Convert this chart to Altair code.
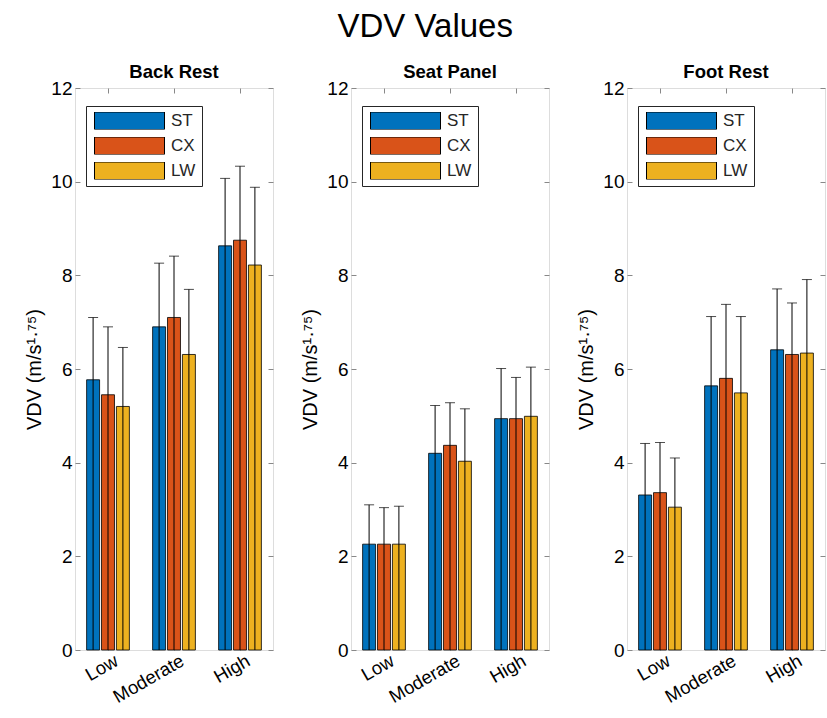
import altair as alt
import pandas as pd

panels = ["Back Rest", "Seat Panel", "Foot Rest"]
levels = ["Low", "Moderate", "High"]
series = ["ST", "CX", "LW"]
colors = ["#0072BD", "#D95319", "#EDB120"]

# mean VDV values per panel, per series (Low, Moderate, High)
back_st = [5.77, 6.90, 8.63]
back_cx = [5.45, 7.10, 8.75]
back_lw = [5.20, 6.31, 8.22]
seat_st = [2.26, 4.20, 4.94]
seat_cx = [2.26, 4.37, 4.94]
seat_lw = [2.26, 4.03, 4.99]
foot_st = [3.31, 5.64, 6.41]
foot_cx = [3.36, 5.80, 6.31]
foot_lw = [3.05, 5.49, 6.34]

# upper error (standard deviation) per panel, per series
back_st_sd = [1.33, 1.36, 1.44]
back_cx_sd = [1.45, 1.31, 1.58]
back_lw_sd = [1.26, 1.39, 1.66]
seat_st_sd = [0.84, 1.02, 1.07]
seat_cx_sd = [0.78, 0.91, 0.88]
seat_lw_sd = [0.81, 1.12, 1.05]
foot_st_sd = [1.10, 1.48, 1.30]
foot_cx_sd = [1.07, 1.58, 1.10]
foot_lw_sd = [1.05, 1.63, 1.57]

y_ticks = [0, 2, 4, 6, 8, 10, 12]

means = {
    "Back Rest": [back_st, back_cx, back_lw],
    "Seat Panel": [seat_st, seat_cx, seat_lw],
    "Foot Rest": [foot_st, foot_cx, foot_lw],
}
sds = {
    "Back Rest": [back_st_sd, back_cx_sd, back_lw_sd],
    "Seat Panel": [seat_st_sd, seat_cx_sd, seat_lw_sd],
    "Foot Rest": [foot_st_sd, foot_cx_sd, foot_lw_sd],
}

rows = []
for p in panels:
    for si, s in enumerate(series):
        for li, lv in enumerate(levels):
            m = means[p][si][li]
            sd = sds[p][si][li]
            rows.append({"panel": p, "series": s, "level": lv, "mean": m, "upper": m + sd})
df = pd.DataFrame(rows)

FONT = "Liberation Sans"
TXT = "#262626"
W, H = 198, 562

band = alt.Scale(type="band", domain=levels, paddingInner=0, paddingOuter=0)
yscale = alt.Scale(domain=[0, 12], nice=False, zero=True)
offscale = alt.Scale(domain=series, paddingInner=0.13, paddingOuter=0.78)


def panel(name):
    base = alt.Chart(df[df.panel == name])
    x = alt.X("level:N", sort=levels, scale=band, title=None,
              axis=alt.Axis(labelAngle=-30, labelAlign="right", labelBaseline="top",
                            labelPadding=6, labelOffset=4, tickSize={"expr": "-5"},
                            domain=False, grid=False, labelFontSize=18.5))
    xo = alt.XOffset("series:N", sort=series, scale=offscale)
    y = alt.Y("mean:Q", scale=yscale, title="VDV (m/s¹·⁷⁵)",
              axis=alt.Axis(values=y_ticks, tickSize={"expr": "-5"}, domain=False, grid=False,
                            labelPadding=8, titlePadding=6, titleFontSize=20,
                            titleFontWeight="normal", labelFontSize=19))
    bars = base.mark_bar(stroke="black", strokeWidth=0.8).encode(
        x=x, xOffset=xo, y=y,
        color=alt.Color("series:N", sort=series,
                        scale=alt.Scale(domain=series, range=colors),
                        legend=alt.Legend(orient="none", legendX=11, legendY=18, title=None,
                                          symbolType="M-1,-0.25H1V0.25H-1Z", symbolSize=4900,
                                          symbolStrokeColor="black", symbolStrokeWidth=1,
                                          symbolOpacity=1,
                                          clipHeight=17.5, rowPadding=6, labelFontSize=17,
                                          labelFont=FONT, labelColor=TXT, strokeColor=TXT,
                                          fillColor="white", padding=6, labelOffset=6,
                                          symbolOffset=2, direction="vertical")))
    rules = base.mark_rule(color="black", strokeWidth=1).encode(
        x=x, xOffset=xo, y=alt.Y("upper:Q", scale=yscale), y2=alt.datum(0))
    caps = base.mark_tick(color="black", orient="horizontal", size=10, thickness=1).encode(
        x=x, xOffset=xo, y=alt.Y("upper:Q", scale=yscale))
    frame = base.mark_point(opacity=0).encode(
        x=alt.X("level:N", sort=levels, scale=band, title=None,
                axis=alt.Axis(orient="top", labels=False, tickSize={"expr": "-5"},
                              domain=False, grid=False)),
        y=alt.Y("mean:Q", scale=yscale, title=None,
                axis=alt.Axis(orient="right", labels=False, values=y_ticks,
                              tickSize={"expr": "-5"}, domain=False, grid=False)))
    inner = alt.layer(bars, rules, caps)
    return alt.layer(inner, frame).resolve_scale(x="independent", y="independent").properties(
        width=W, height=H,
        title=alt.TitleParams(name, fontSize=18.5, fontWeight="bold", font=FONT, color="black",
                              offset=-2, anchor="middle"))


chart = alt.hconcat(*[panel(p) for p in panels], spacing=26).resolve_legend(
    color="independent"
).properties(
    title=alt.TitleParams("VDV Values", fontSize=33, fontWeight="normal", font=FONT,
                          color="black", anchor="middle", offset=18),
    padding={"left": 24, "top": 11, "right": 0, "bottom": 0},
).configure_view(stroke=TXT, strokeWidth=1).configure_axis(
    labelFont=FONT, titleFont=FONT, labelColor=TXT, titleColor=TXT, tickColor=TXT,
    grid=False, tickWidth=1
).configure(background="white")

chart.save("out.html", embed_options={"renderer": "svg", "actions": False})
